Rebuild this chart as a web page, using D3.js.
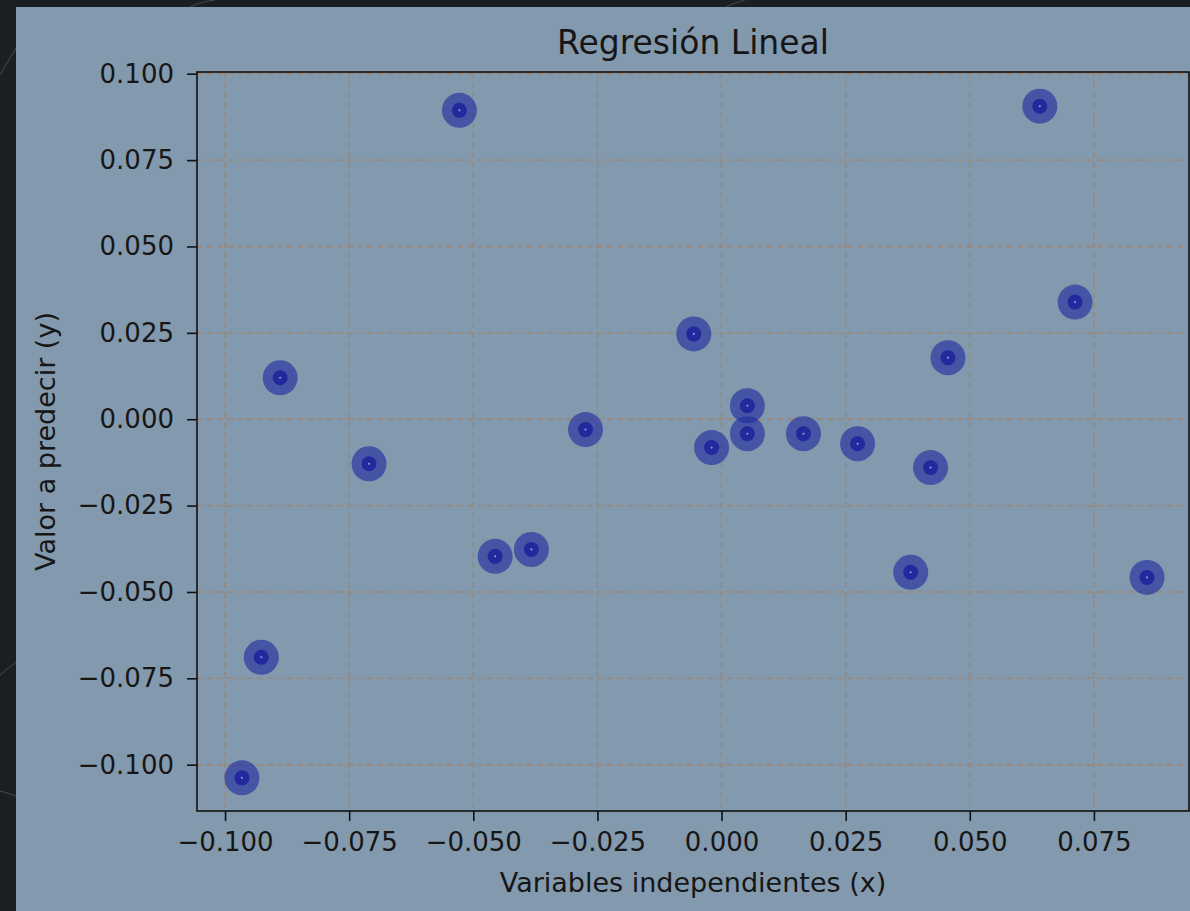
<!DOCTYPE html>
<html>
<head>
<meta charset="utf-8">
<script src="https://cdn.jsdelivr.net/npm/d3@7"></script>
<style>
  body { margin: 0; background: #1b1f24; }
  svg { display: block; }
  text { font-family: "DejaVu Sans", sans-serif; fill: #161616; }
</style>
</head>
<body>
<svg width="1190" height="911"></svg>
<script>
// data
let xValues = [-0.0966, -0.0927, -0.0889, -0.0710, -0.0528, -0.0456, -0.0383, -0.0274,
  -0.0056, -0.0020, 0.0052, 0.0052, 0.0165, 0.0274, 0.0381, 0.0421, 0.0456, 0.0641, 0.0712, 0.0857];
let yValues = [-0.1038, -0.0689, 0.0120, -0.0129, 0.0894, -0.0397, -0.0377, -0.0030,
  0.0247, -0.0082, 0.0039, -0.0042, -0.0042, -0.0071, -0.0443, -0.0140, 0.0178, 0.0906, 0.0339, -0.0458];
let xTicks = [-0.100, -0.075, -0.050, -0.025, 0.000, 0.025, 0.050, 0.075];
let yTicks = [-0.100, -0.075, -0.050, -0.025, 0.000, 0.025, 0.050, 0.075, 0.100];

let title = "Regresión Lineal";
let xLabel = "Variables independientes (x)";
let yLabel = "Valor a predecir (y)";

let svg = d3.select("body").select("svg");

// faint lines of the dark page behind the figure
let deco = svg.append("g").attr("fill", "none").attr("stroke", "#6b737c").attr("stroke-opacity", 0.5);
deco.append("path").attr("d", "M0,75 Q20,40 40,12");
deco.append("path").attr("d", "M0,675 Q8,668 16,662");
deco.append("path").attr("d", "M0,791 Q8,793 16,796");
deco.append("path").attr("d", "M190,7 Q200,2 215,0");
deco.append("path").attr("d", "M725,7 Q735,3 745,0");

// the figure itself
svg.append("rect")
  .attr("x", 16).attr("y", 7)
  .attr("width", 1190 - 16).attr("height", 911 - 7)
  .attr("fill", "#8399ad");

let margin = { top: 72, left: 197, right: 1189, bottom: 811 };

let xScale = d3.scaleLinear()
  .domain([-0.10565, 0.09415])
  .range([margin.left, margin.right]);

let yScale = d3.scaleLinear()
  .domain([-0.1134, 0.1005])
  .range([margin.bottom, margin.top]);

let fmt = d3.format(".3f");
let tickFmt = d => fmt(d).replace("-", "\u2212");

// grid
let grid = svg.append("g")
  .attr("stroke", "#9e8570")
  .attr("stroke-width", 1.4)
  .attr("stroke-dasharray", "6,4");

grid.selectAll("line.gx").data(xTicks).enter().append("line")
  .attr("x1", d => xScale(d)).attr("x2", d => xScale(d))
  .attr("y1", margin.top).attr("y2", margin.bottom);

grid.selectAll("line.gy").data(yTicks).enter().append("line")
  .attr("y1", d => yScale(d)).attr("y2", d => yScale(d))
  .attr("x1", margin.left).attr("x2", margin.right);

// points
let pts = xValues.map((x, i) => [x, yValues[i]]);
let dots = svg.append("g");

dots.selectAll("circle.outer").data(pts).enter().append("circle")
  .attr("cx", d => xScale(d[0])).attr("cy", d => yScale(d[1]))
  .attr("r", 17.5)
  .attr("fill", "#1e2a9e").attr("fill-opacity", 0.62);

dots.selectAll("circle.inner").data(pts).enter().append("circle")
  .attr("cx", d => xScale(d[0])).attr("cy", d => yScale(d[1]))
  .attr("r", 7.5)
  .attr("fill", "#16169a").attr("fill-opacity", 0.7);

dots.selectAll("circle.center").data(pts).enter().append("circle")
  .attr("cx", d => xScale(d[0])).attr("cy", d => yScale(d[1]))
  .attr("r", 1.1)
  .attr("fill", "#8c96d0");

// axes
let xAxis = d3.axisBottom(xScale).tickValues(xTicks).tickFormat(tickFmt).tickSize(10).tickPadding(12);
let yAxis = d3.axisLeft(yScale).tickValues(yTicks).tickFormat(tickFmt).tickSize(10).tickPadding(13);

let xGroup = svg.append("g").attr("transform", "translate(0," + margin.bottom + ")").call(xAxis);
let yGroup = svg.append("g").attr("transform", "translate(" + margin.left + ",0)").call(yAxis);

[xGroup, yGroup].forEach(g => {
  g.select(".domain").remove();
  g.selectAll(".tick line").attr("stroke", "#111").attr("stroke-width", 1.6);
  g.selectAll(".tick text")
    .attr("fill", "#161616")
    .style("font-family", "DejaVu Sans")
    .style("font-size", "26px");
});

// spines
svg.append("rect")
  .attr("x", margin.left).attr("y", margin.top)
  .attr("width", margin.right - margin.left)
  .attr("height", margin.bottom - margin.top)
  .attr("fill", "none").attr("stroke", "#111").attr("stroke-width", 1.6);

// titles
svg.append("text")
  .attr("x", (margin.left + margin.right) / 2).attr("y", 54)
  .attr("text-anchor", "middle")
  .style("font-size", "33px")
  .text(title);

svg.append("text")
  .attr("x", (margin.left + margin.right) / 2).attr("y", 892)
  .attr("text-anchor", "middle")
  .style("font-size", "27px")
  .text(xLabel);

svg.append("text")
  .attr("transform", "translate(55," + (margin.top + margin.bottom) / 2 + ")rotate(-90)")
  .attr("text-anchor", "middle")
  .style("font-size", "27px")
  .text(yLabel);
</script>
</body>
</html>
